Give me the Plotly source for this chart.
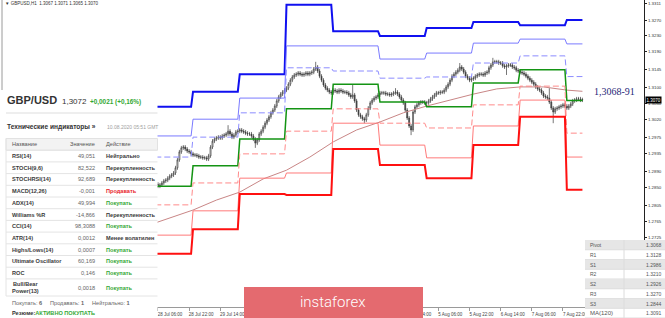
import plotly.graph_objects as go

# ---------------- data ----------------
day_bars = [24, 24, 24, 24, 24, 24, 24, 24, 24, 9]   # 28 Jul .. 10 Aug (H1 bars per day)

R3 = [1.3052, 1.3090, 1.3134, 1.3308, 1.3242, 1.3230, 1.3250, 1.3265, 1.3257, 1.3270]
R2 = [1.2979, 1.3021, 1.3074, 1.3205, 1.3205, 1.3172, 1.3187, 1.3212, 1.3222, 1.3210]
R1 = [1.2926, 1.2976, 1.3037, 1.3150, 1.3142, 1.3124, 1.3127, 1.3162, 1.3180, 1.3128]
PP = [1.2853, 1.2904, 1.2971, 1.3047, 1.3109, 1.3064, 1.3052, 1.3112, 1.3145, 1.3068]
S1 = [1.2806, 1.2861, 1.2934, 1.2991, 1.3047, 1.3011, 1.2999, 1.3057, 1.3104, 1.2986]
S2 = [1.2730, 1.2791, 1.2873, 1.2886, 1.3011, 1.2956, 1.2924, 1.3004, 1.3069, 1.2926]
S3 = [1.2683, 1.2745, 1.2833, 1.2831, 1.2946, 1.2906, 1.2873, 1.2956, 1.3027, 1.2844]

closes = [
    # 28 Jul
    1.2856, 1.2858, 1.2853, 1.2856, 1.2861, 1.2858, 1.2853, 1.2856, 1.2861, 1.2866, 1.2868, 1.2873,
    1.2878, 1.2881, 1.2886, 1.2899, 1.2919, 1.2939, 1.2949, 1.2951, 1.2946, 1.2941, 1.2939, 1.2934,
    # 29 Jul
    1.2931, 1.2931, 1.2929, 1.2926, 1.2926, 1.2924, 1.2924, 1.2921, 1.2929, 1.2951, 1.2966, 1.2971,
    1.2974, 1.2976, 1.2974, 1.2979, 1.2981, 1.2984, 1.2991, 1.2984, 1.2976, 1.2981, 1.2989, 1.2991,
    # 30 Jul
    1.2994, 1.2991, 1.2989, 1.2986, 1.2984, 1.2984, 1.2979, 1.2971, 1.2961, 1.2969, 1.2984, 1.2991,
    1.3001, 1.3011, 1.3019, 1.3027, 1.3037, 1.3044, 1.3054, 1.3067, 1.3077, 1.3084, 1.3089, 1.3094,
    # 31 Jul
    1.3099, 1.3109, 1.3119, 1.3127, 1.3132, 1.3134, 1.3137, 1.3134, 1.3132, 1.3134, 1.3137, 1.3134,
    1.3137, 1.3139, 1.3147, 1.3152, 1.3142, 1.3129, 1.3119, 1.3107, 1.3099, 1.3094, 1.3089, 1.3087,
    # 3 Aug
    1.3094, 1.3092, 1.3089, 1.3094, 1.3092, 1.3089, 1.3089, 1.3087, 1.3082, 1.3077, 1.3082, 1.3067,
    1.3044, 1.3032, 1.3027, 1.3022, 1.3019, 1.3032, 1.3049, 1.3062, 1.3069, 1.3074, 1.3077, 1.3082,
    # 4 Aug
    1.3087, 1.3087, 1.3087, 1.3084, 1.3084, 1.3082, 1.3084, 1.3087, 1.3089, 1.3084, 1.3077, 1.3069,
    1.3062, 1.3044, 1.3024, 1.3004, 1.2994, 1.3039, 1.3052, 1.3057, 1.3062, 1.3064, 1.3064, 1.3062,
    # 5 Aug
    1.3062, 1.3067, 1.3072, 1.3077, 1.3082, 1.3087, 1.3087, 1.3089, 1.3089, 1.3094, 1.3102, 1.3109,
    1.3119, 1.3129, 1.3134, 1.3139, 1.3144, 1.3152, 1.3147, 1.3139, 1.3129, 1.3124, 1.3119, 1.3122,
    # 6 Aug
    1.3124, 1.3129, 1.3132, 1.3134, 1.3134, 1.3132, 1.3137, 1.3139, 1.3150, 1.3157, 1.3165, 1.3165,
    1.3165, 1.3162, 1.3162, 1.3155, 1.3152, 1.3155, 1.3157, 1.3157, 1.3152, 1.3150, 1.3144, 1.3142,
    # 7 Aug
    1.3139, 1.3137, 1.3134, 1.3129, 1.3124, 1.3119, 1.3114, 1.3109, 1.3102, 1.3097, 1.3094, 1.3087,
    1.3079, 1.3077, 1.3074, 1.3064, 1.3049, 1.3039, 1.3047, 1.3049, 1.3052, 1.3054, 1.3057, 1.3054,
    # 10 Aug
    1.3049, 1.3054, 1.3059, 1.3067, 1.3069, 1.3072, 1.3072, 1.3069, 1.3070,
]
first_open = 1.2858
spike_highs = {42: 1.3006, 87: 1.3165, 106: 1.3107, 128: 1.3099, 161: 1.3162, 178: 1.3175, 207: 1.3099}
spike_lows = {56: 1.2949, 112: 1.3011, 136: 1.2981, 185: 1.3132, 209: 1.3011}

ma_idx = [0, 12, 24, 36, 48, 60, 72, 84, 96, 108, 120, 132, 144, 156, 168, 180, 192, 204, 216, 224]
ma_val = [1.2753, 1.2773, 1.2793, 1.2818, 1.2838, 1.2871, 1.2893, 1.2926, 1.2964, 1.2994,
          1.3014, 1.3037, 1.3054, 1.3069, 1.3084, 1.3097, 1.3102, 1.3102, 1.3094, 1.3091]

# x-axis labels that are not hidden behind the panels/banner
x_tick_idx = [6, 22, 38, 134, 150, 166, 182, 198, 214]
x_tick_txt = ["28 Jul 06:00", "28 Jul 22:00", "29 Jul 14:00", "4 Aug 14:00", "5 Aug 06:00",
              "5 Aug 22:00", "6 Aug 14:00", "7 Aug 06:00", "7 Aug 22:00"]
y_tick_val = [1.3311, 1.3270, 1.3230, 1.3190, 1.3145, 1.3100, 1.3060, 1.3020, 1.2975,
              1.2935, 1.2890, 1.2850, 1.2805, 1.2765, 1.2725]
y_tick_txt = ["%.4f" % v for v in y_tick_val]

ind_names = ["RSI(14)", "STOCH(9,6)", "STOCHRSI(14)", "MACD(12,26)", "ADX(14)", "Williams %R",
             "CCI(14)", "ATR(14)", "Highs/Lows(14)", "Ultimate Oscillator", "ROC", "Bull/Bear<br>Power(13)"]
ind_values = ["49,051", "82,522", "92,689", "-0,001", "49,994", "-14,866", "98,3088", "0,0012",
              "0,0007", "60,169", "0,146", "0,0018"]
ind_actions = ["Нейтрально", "Перекупленность", "Перекупленность", "Продавать", "Покупать",
               "Перекупленность", "Покупать", "Менее волатилен", "Покупать", "Покупать",
               "Покупать", "Покупать"]

piv_names = ["Pivot", "R1", "S1", "R2", "S2", "R3", "S3", "MA(120)"]
piv_vals = ["1.3068", "1.3128", "1.2986", "1.3210", "1.2926", "1.3270", "1.2844", "1.3091"]

last_price = 1.3070

# ---------------- derived series ----------------
n = len(closes)
xs = list(range(n))
opens = [first_open] + closes[:-1]
WICK = 0.0005
highs = [spike_highs.get(i, max(opens[i], closes[i]) + WICK) for i in range(n)]
lows = [spike_lows.get(i, min(opens[i], closes[i]) - WICK) for i in range(n)]


def per_bar(levels):
    out = []
    for lv, nb in zip(levels, day_bars):
        out += [lv] * nb
    return out


FONT = "Liberation Sans, Arial, sans-serif"
W, H = 665, 318
PW, PH = 644, 307


def px(x):
    return x / PW


def py(y):
    return (PH - y) / PH


fig = go.Figure()

fig.add_trace(go.Candlestick(
    x=xs, open=opens, high=highs, low=lows, close=closes,
    increasing=dict(line=dict(color="#3c3c3c", width=0.7), fillcolor="#ffffff"),
    decreasing=dict(line=dict(color="#3c3c3c", width=0.7), fillcolor="#3c3c3c"),
    whiskerwidth=0, showlegend=False, hoverinfo="skip"))

fig.add_trace(go.Scatter(x=ma_idx, y=ma_val, mode="lines",
                         line=dict(color="#c98686", width=1), hoverinfo="skip", showlegend=False))

styles = [
    (R3, "#1010f0", 2, "solid"),
    (R2, "#7a7aff", 1, "solid"),
    (R1, "#8c8cff", 1, "6px,3px"),
    (PP, "#149414", 1.5, "solid"),
    (S1, "#ff8a8a", 1, "6px,3px"),
    (S2, "#ff7a7a", 1, "solid"),
    (S3, "#ff1010", 2, "solid"),
]
for lv, col, w, dash in styles:
    fig.add_trace(go.Scatter(x=xs, y=per_bar(lv), mode="lines",
                             line=dict(color=col, width=w, dash=dash),
                             hoverinfo="skip", showlegend=False))

# ---------------- layout ----------------
x_lo = (0 - 146.3) / 1.947
x_hi = (PW - 146.3) / 1.947
y_top = 1.33202
y_bot = 1.33202 - 0.000251 * PH

shapes = []
annotations = []

# chart window left border
shapes.append(dict(type="line", xref="paper", yref="paper", x0=px(2), x1=px(2), y0=py(90), y1=py(0),
                   line=dict(color="#9a9a9a", width=1), layer="above"))

# left indicator panel
shapes.append(dict(type="rect", xref="paper", yref="paper", x0=px(-2), x1=px(157.5), y0=py(320), y1=py(90),
                   fillcolor="#ffffff", line=dict(width=0), layer="above"))
shapes.append(dict(type="line", xref="paper", yref="paper", x0=px(6), x1=px(157.5), y0=py(113), y1=py(113),
                   line=dict(color="#dddddd", width=1), layer="above"))
row_top = 138.5
row_h = 11.7
shapes.append(dict(type="rect", xref="paper", yref="paper", x0=px(6), x1=px(157.5),
                   y0=py(row_top + row_h), y1=py(row_top), fillcolor="#f3f3f3",
                   line=dict(color="#e2e2e2", width=1), layer="above"))
bounds = [row_top + row_h * k for k in range(1, 13)] + [296]
for b in bounds:
    shapes.append(dict(type="line", xref="paper", yref="paper", x0=px(6), x1=px(157.5), y0=py(b), y1=py(b),
                       line=dict(color="#e4e4e4", width=1), layer="above"))
shapes.append(dict(type="line", xref="paper", yref="paper", x0=px(6), x1=px(6), y0=py(296), y1=py(row_top),
                   line=dict(color="#e4e4e4", width=1), layer="above"))

# instaforex banner
shapes.append(dict(type="rect", xref="paper", yref="paper", x0=px(244), x1=px(423), y0=py(318), y1=py(287),
                   fillcolor="#e46a6f", line=dict(width=0), layer="above"))

# pivot table (bottom right)
pt_top, pt_h = 240, 9.75
shapes.append(dict(type="rect", xref="paper", yref="paper", x0=px(585), x1=px(666), y0=py(320), y1=py(pt_top),
                   fillcolor="#ffffff", line=dict(width=0), layer="above"))
for k in range(len(piv_names)):
    top = pt_top + k * pt_h
    if k % 2 == 0 and k < 7:
        shapes.append(dict(type="rect", xref="paper", yref="paper", x0=px(585), x1=px(666),
                           y0=py(top + pt_h), y1=py(top), fillcolor="#e6e6e6",
                           line=dict(width=0), layer="above"))
    shapes.append(dict(type="line", xref="paper", yref="paper", x0=px(585), x1=px(666),
                       y0=py(top + pt_h), y1=py(top + pt_h), line=dict(color="#dcdcdc", width=1),
                       layer="above"))
    annotations.append(dict(xref="paper", yref="paper", x=px(588), y=py(top + pt_h / 2 + 0.3),
                            xanchor="left", yanchor="middle", showarrow=False,
                            text=piv_names[k],
                            font=dict(family=FONT, size=6 if k == 7 else 5, color="#555555")))
    annotations.append(dict(xref="paper", yref="paper", x=px(663.5), y=py(top + pt_h / 2 + 0.3),
                            xanchor="right", yanchor="middle", showarrow=False,
                            text=piv_vals[k], font=dict(family=FONT, size=5, color="#555555")))
shapes.append(dict(type="line", xref="paper", yref="paper", x0=px(624), x1=px(624), y0=py(318), y1=py(pt_top),
                   line=dict(color="#dcdcdc", width=1), layer="above"))


# ---------------- texts ----------------
def ann(x, y, text, size, color="#333333", anchor="left", family=FONT, weight=None):
    f = dict(family=family, size=size, color=color)
    if weight:
        f["weight"] = weight
    annotations.append(dict(xref="paper", yref="paper", x=px(x), y=py(y), xanchor=anchor, yanchor="middle",
                            showarrow=False, text=text, font=f))


ann(3, 3.5, "\u25bc GBPUSD,H1\u00a0\u00a01.3067 1.3071 1.3065 1.3070", 4.5, "#333333")
ann(5, 100, "<b>GBP/USD</b>", 11, "#333333")
ann(60, 101, "1,3072", 8, "#333333")
ann(88, 101.5, "<b>+0,0021 (+0,16%)</b>", 6.4, "#33a833")
ann(5, 127, "<b>Технические индикаторы »</b>", 6.6, "#333333")
ann(105, 127.5, "10.08.2020 05:51 GMT", 5, "#a0a0a0")

hdr_y = row_top + row_h / 2
ann(10, hdr_y, "Название", 5.6, "#555555")
ann(97, hdr_y, "Значение", 5.6, "#555555", anchor="right")
ann(104, hdr_y, "Действие", 5.6, "#555555")

act_col = {"Продавать": "#e8262a", "Покупать": "#36a836"}
for k, (nm, vl, ac) in enumerate(zip(ind_names, ind_values, ind_actions)):
    if k < 11:
        cy = row_top + row_h * (k + 1) + row_h / 2
    else:
        cy = 287.5
    ann(10, cy, nm, 5.6, "#3a3a3a", weight=600)
    ann(97, cy, vl, 5.6, "#666666", anchor="right")
    ann(104, cy, ac, 5.6, act_col.get(ac, "#3a3a3a"), weight=600)

ann(10, 302.5, "Покупать: <b>6</b>", 5.6, "#666666")
ann(48, 302.5, "Продавать: <b>1</b>", 5.6, "#666666")
ann(90, 302.5, "Нейтрально: <b>1</b>", 5.6, "#666666")
ann(10, 312.5, "<b>Резюме:</b><b><span style='color:#36a836'>АКТИВНО ПОКУПАТЬ</span></b>", 5.6, "#333333")

# banner text
ann(332, 302, "instaforex", 15, "#ffffff", anchor="center", family="Roboto", weight=300)

# level label
annotations.append(dict(xref="paper", yref="y", x=px(592), y=1.3090, xanchor="left", yanchor="middle",
                        showarrow=False, text="1,3068-91",
                        font=dict(family="Liberation Serif, Times New Roman, serif", size=10, color="#1f1f78")))

# current price box
annotations.append(dict(xref="paper", yref="y", x=px(645), y=last_price, xanchor="left", yanchor="middle",
                        showarrow=False, text="%.4f" % last_price, bgcolor="#000000", borderpad=0.5,
                        font=dict(family=FONT, size=4.5, color="#ffffff")))

fig.update_layout(
    width=W, height=H, margin=dict(l=0, r=W - PW, t=0, b=H - PH, autoexpand=False),
    paper_bgcolor="#ffffff", plot_bgcolor="#ffffff",
    showlegend=False, hovermode=False,
    xaxis=dict(range=[x_lo, x_hi], showgrid=False, zeroline=False, rangeslider=dict(visible=False),
               showline=True, linecolor="#9a9a9a", linewidth=1,
               tickmode="array", tickvals=x_tick_idx, ticktext=x_tick_txt,
               ticks="outside", ticklen=3, tickcolor="#9a9a9a", ticklabelshift=12,
               tickfont=dict(family=FONT, size=4.5, color="#444444"), fixedrange=True),
    yaxis=dict(range=[y_bot, y_top], side="right", showgrid=False, zeroline=False,
               showline=True, linecolor="#222222", linewidth=1,
               tickmode="array", tickvals=y_tick_val, ticktext=y_tick_txt,
               ticks="outside", ticklen=2, tickcolor="#222222",
               tickfont=dict(family=FONT, size=4.4, color="#333333"), fixedrange=True),
    shapes=shapes, annotations=annotations,
)

fig.write_html("out.html", config={"displayModeBar": False})
